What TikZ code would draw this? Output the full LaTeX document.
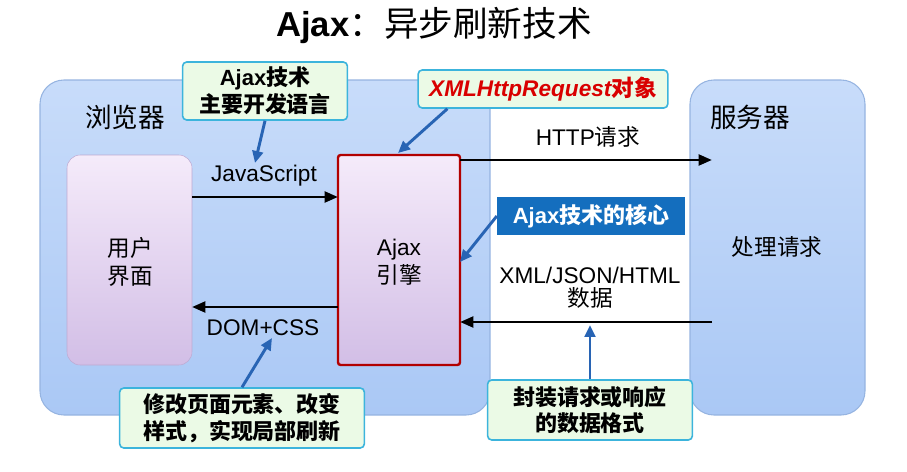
\documentclass[tikz,border=0pt]{standalone}
\usepackage{fontspec}
\setmainfont{Liberation Sans}
\newfontfamily\cjk{Noto Sans CJK SC}
\usetikzlibrary{arrows.meta}
\definecolor{bbord}{RGB}{150,180,225}
\definecolor{bfillA}{RGB}{200,220,250}
\definecolor{bfillB}{RGB}{170,200,245}
\definecolor{lavA}{RGB}{245,235,250}
\definecolor{lavB}{RGB}{210,190,230}
\definecolor{lavbord}{RGB}{190,170,210}
\definecolor{callfill}{RGB}{235,250,230}
\definecolor{callbord}{RGB}{60,180,220}
\definecolor{corefill}{RGB}{20,110,190}
\definecolor{arrowblue}{RGB}{40,100,180}
\begin{document}
\begin{tikzpicture}[x=0.0264cm,y=-0.0264cm,
  panel/.style={draw=bbord,line width=0.8pt,rounded corners=18pt,top color=bfillA,bottom color=bfillB},
  inner/.style={draw=lavbord,rounded corners=10pt,top color=lavA,bottom color=lavB},
  call/.style={draw=callbord,line width=1.2pt,fill=callfill,rounded corners=3pt,inner sep=2pt},
  flow/.style={-{Triangle[length=10pt,width=8pt]},line width=2.2pt,black},
  point/.style={-{Triangle[length=9pt,width=8pt]},line width=2.2pt,arrowblue},
  lbl/.style={font=\fontsize{17}{19}\selectfont,align=center},
  clbl/.style={font=\bfseries\fontsize{16.5}{20}\selectfont,align=center}]
\useasboundingbox (0,0) rectangle (907,471);
\node (title) at (434,25) {\fontsize{26}{30}\selectfont\textbf{Ajax}{\cjk ：异步刷新技术}};
\draw[panel] (40,80) rectangle (490,415);
\draw[panel] (690,80) rectangle (865,415);
\node (bl) at (125,117) {\fontsize{20}{22}\selectfont\cjk 浏览器};
\node (sl) at (750,117) {\fontsize{20}{22}\selectfont\cjk 服务器};
\node (proc) at (777,247) [lbl] {\cjk 处理请求};
\draw[inner] (67,155) rectangle (192,365);
\node (ui) at (130,262) [lbl] {\cjk 用户\\[2pt]\cjk 界面};
\draw[inner,draw=red!70!black,line width=1.8pt,rounded corners=2pt] (338,155) rectangle (460,365);
\node (ajax) at (399,262) [lbl] {Ajax\\[2pt]\cjk 引擎};
\coordinate (uiR1) at (192,197); \coordinate (ajL1) at (338,197);
\coordinate (uiR2) at (192,307); \coordinate (ajL2) at (338,307);
\coordinate (ajR1) at (460,160); \coordinate (svL1) at (712,160);
\coordinate (ajR2) at (460,322); \coordinate (svL2) at (712,322);
\draw[flow] (uiR1) -- (ajL1);
\draw[flow] (ajL2) -- (uiR2);
\draw[flow] (ajR1) -- (svL1);
\draw[flow] (svL2) -- (ajR2);
\node (js) at (264,176) [lbl] {JavaScript};
\node (dom) at (263,328) [lbl] {DOM+CSS};
\node (http) at (588,137) [lbl] {HTTP{\cjk 请求}};
\node (xml) at (590,288) [lbl] {XML/JSON/HTML\\[-2pt]{\cjk 数据}};
\node (c1) [call,clbl,minimum width=165*0.75pt,minimum height=58*0.75pt] at (265,91) {Ajax{\cjk 技术}\\\cjk 主要开发语言};
\node (c2) [call,minimum height=38*0.75pt,minimum width=250*0.75pt] at (543,89) {\color{red!85!black}\bfseries\itshape\fontsize{17}{20}\selectfont XMLHttpRequest{\cjk 对象}};
\node (c3) [fill=corefill,text=white,font=\bfseries\fontsize{16.5}{20}\selectfont,minimum height=38*0.75pt,minimum width=188*0.75pt] at (591,216) {Ajax{\cjk 技术的核心}};
\node (c4) [call,clbl,minimum width=245*0.75pt,minimum height=60*0.75pt] at (242,418) {\cjk 修改页面元素、改变\\\cjk 样式，实现局部刷新};
\node (c5) [call,clbl,minimum width=205*0.75pt,minimum height=60*0.75pt] at (590,410) {\cjk 封装请求或响应\\\cjk 的数据格式};
\coordinate (p1) at (255,163);
\coordinate (p2) at (398,153);
\coordinate (p3) at (460,262);
\coordinate (p4) at (272,338);
\coordinate (p5) at (590,325);
\draw[point] (c1.south) -- (p1);
\draw[point] (c2.south west) ++(30,0) coordinate (c2s) -- (p2);
\draw[point] (c3.west) -- (p3);
\draw[point] (c4.north) -- (p4);
\draw[point] (c5.north) -- (p5);
\end{tikzpicture}
\end{document}
